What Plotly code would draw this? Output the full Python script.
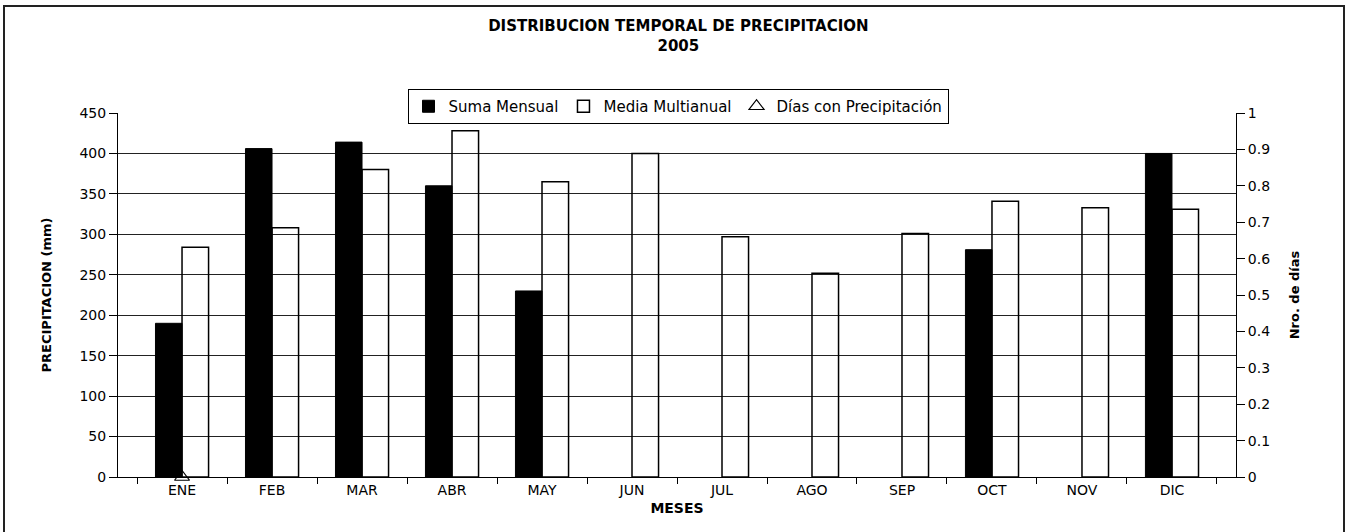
import plotly.graph_objects as go

meses = ["ENE", "FEB", "MAR", "ABR", "MAY", "JUN", "JUL", "AGO", "SEP", "OCT", "NOV", "DIC"]
suma_mensual = [190, 406, 414, 360, 230, None, None, None, None, 281, None, 400]
media_multianual = [284, 308, 380, 428, 365, 400, 297, 252, 301, 341, 333, 331]
dias_precipitacion = [0, None, None, None, None, None, None, None, None, None, None, None]
y_ticks = [0, 50, 100, 150, 200, 250, 300, 350, 400, 450]
y2_ticks = [0, 0.1, 0.2, 0.3, 0.4, 0.5, 0.6, 0.7, 0.8, 0.9, 1]

W, H = 1346, 532
L, R, T, B = 118, 110, 113, 55
pw, ph = W - L - R, H - T - B

FONT = "DejaVu Sans, Verdana, sans-serif"

fig = go.Figure()
fig.add_trace(go.Bar(
    x=meses, y=suma_mensual, name="Suma Mensual",
    marker=dict(color="black", line=dict(color="black", width=1)),
))
fig.add_trace(go.Bar(
    x=meses, y=media_multianual, name="Media Multianual",
    marker=dict(color="rgba(255,255,255,0)", line=dict(color="black", width=1.5)),
))
fig.add_trace(go.Scatter(
    x=meses, y=dias_precipitacion, name="Días con Precipitación", yaxis="y2",
    mode="markers",
    marker=dict(symbol="triangle-up-open", size=13, color="black", line=dict(width=1.2)),
    cliponaxis=False,
))

def px_x(px):
    return (px - L) / pw

def px_y(py):
    return (H - B - py) / ph

fig.update_layout(
    width=W, height=H,
    margin=dict(l=L, r=R, t=T, b=B, autoexpand=False),
    paper_bgcolor="white", plot_bgcolor="white",
    font=dict(family=FONT, size=14, color="black"),
    barmode="group", bargap=0.41, bargroupgap=0,
    showlegend=True,
    title=dict(
        text="<b>DISTRIBUCION TEMPORAL DE PRECIPITACION<br>2005</b>",
        x=0.504, xanchor="center", y=1 - 31 / H, yanchor="top",
        font=dict(size=15, family=FONT),
    ),
    legend=dict(
        orientation="h", x=px_x(678), xanchor="center",
        y=px_y(89), yanchor="top", yref="paper",
        bordercolor="black", borderwidth=1,
        font=dict(size=15, family=FONT),
        itemwidth=30, tracegroupgap=0,
    ),
    xaxis=dict(
        type="category", tickson="boundaries", ticks="outside", ticklen=6,
        tickcolor="black", showline=True, linecolor="black", linewidth=1,
        showgrid=False, tickfont=dict(size=14),
        title=dict(text="<b>MESES</b>", font=dict(size=14), standoff=6),
    ),
    yaxis=dict(
        range=[0, 450], tickvals=y_ticks, ticks="outside", ticklen=8,
        tickcolor="black", showline=True, linecolor="black", linewidth=1,
        showgrid=True, gridcolor="#222", gridwidth=1, zeroline=False,
        tickfont=dict(size=14),
        title=dict(text="<b>PRECIPITACION (mm)</b>", font=dict(size=13), standoff=24),
    ),
    yaxis2=dict(
        range=[0, 1], tickvals=y2_ticks, ticktext=[str(v) for v in y2_ticks],
        overlaying="y", side="right", ticks="outside", ticklen=8,
        tickcolor="black", showline=True, linecolor="black", linewidth=1,
        showgrid=False, zeroline=False, tickfont=dict(size=14),
        title=dict(text="<b>Nro. de días</b>", font=dict(size=13), standoff=20),
    ),
    shapes=[dict(
        type="rect", xref="paper", yref="paper",
        x0=px_x(4), x1=px_x(1344), y0=px_y(540), y1=px_y(6),
        line=dict(color="#222", width=2), fillcolor="rgba(0,0,0,0)", layer="below",
    )],
)

fig.write_html("out.html", config={"displayModeBar": False},
               post_script="document.body.style.margin='0';")
